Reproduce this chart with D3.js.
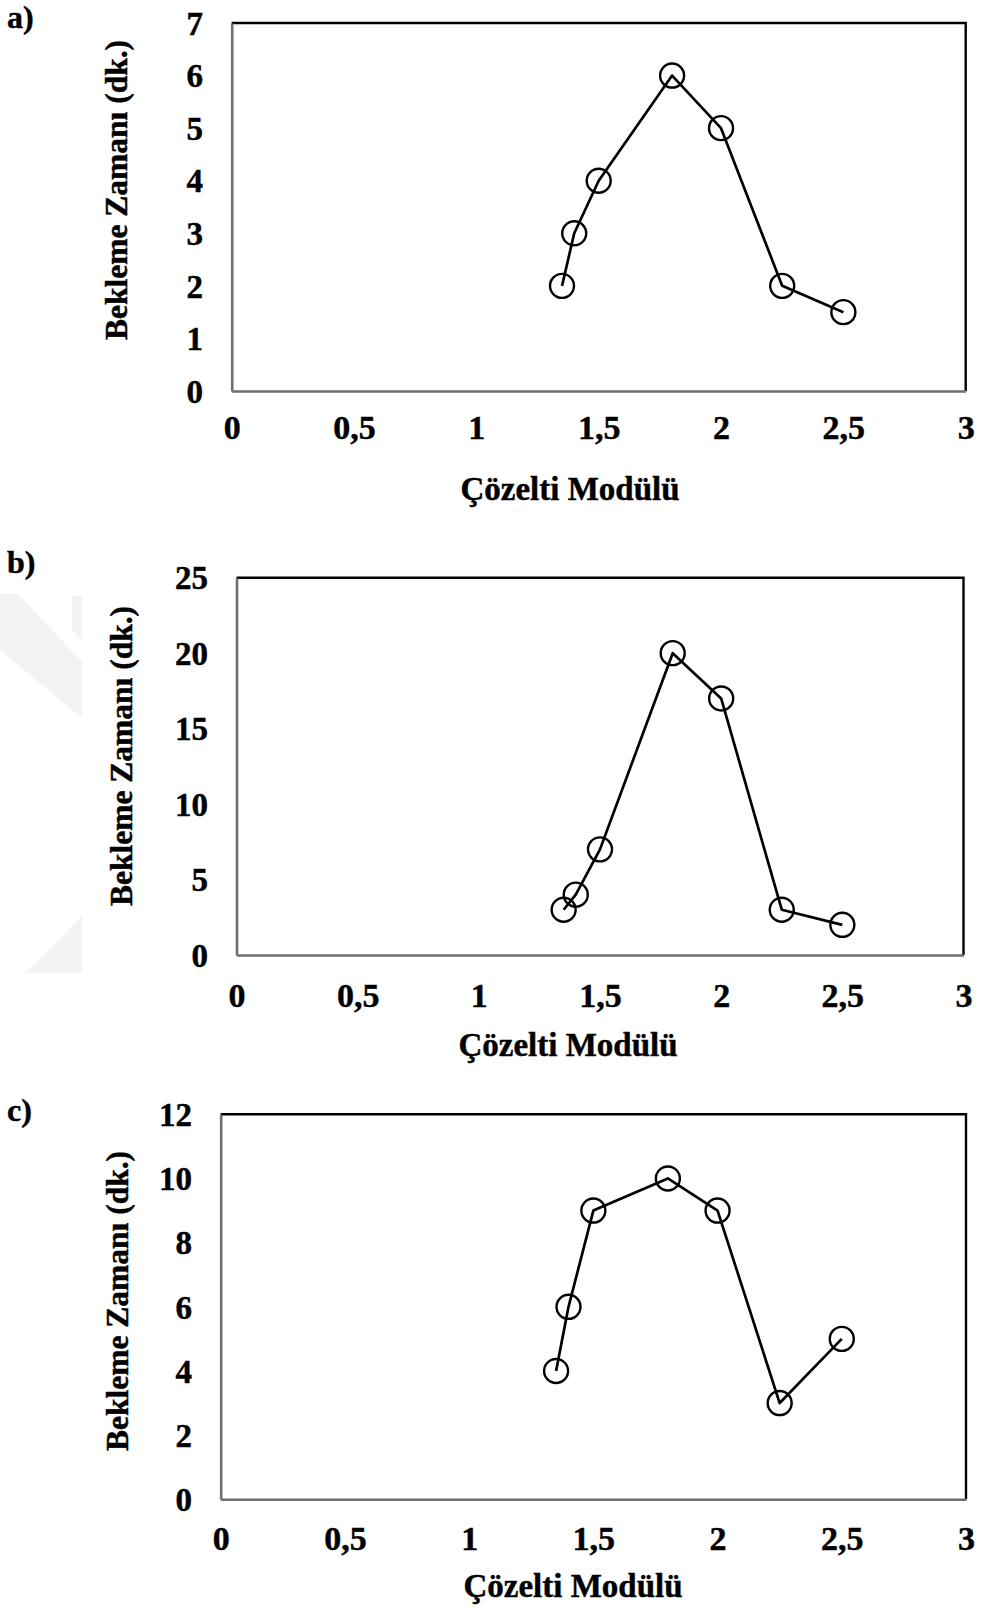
<!DOCTYPE html>
<html>
<head>
<meta charset="utf-8">
<script src="https://cdn.jsdelivr.net/npm/d3@7"></script>
<style>
  html, body { margin: 0; padding: 0; background: #ffffff; }
  svg { display: block; }
  text { font-family: "Liberation Serif", "Times New Roman", serif; font-weight: bold; fill: #000; }
</style>
</head>
<body>
<svg id="fig" width="982" height="1614"></svg>
<script>
// Solution modulus values shared by all three panels
const modulus = [1.35, 1.4, 1.5, 1.8, 2.0, 2.25, 2.5];

// Waiting time (min) for each panel
const waitA = [2, 3, 4, 6, 5, 2, 1.5];
const waitB = [3, 4, 7, 20, 17, 3, 2];
const waitC = [4, 6, 9, 10, 9, 3, 5];

// Tick values
const xTicks = [0, 0.5, 1, 1.5, 2, 2.5, 3];
const yTicksA = [0, 1, 2, 3, 4, 5, 6, 7];
const yTicksB = [0, 5, 10, 15, 20, 25];
const yTicksC = [0, 2, 4, 6, 8, 10, 12];

// Text
const panelLetters = ["a)", "b)", "c)"];
const yTitle = "Bekleme Zamanı (dk.)";
const xTitle = "Çözelti Modülü";

const fmt = d => String(d).replace(".", ",");

// Page layout of each panel
const layouts = [
  { left: 231.7, right: 965.7, top: 23,     bottom: 391,    yLabRight: 203, xLabBase: 439,  xTitleX: 570, xTitleBase: 500,  yTitleX: 117, yTitleY: 190,  letterBase: 28 },
  { left: 236.5, right: 963.5, top: 577.7,  bottom: 955,    yLabRight: 208, xLabBase: 1007, xTitleX: 568, xTitleBase: 1056, yTitleX: 122, yTitleY: 756,  letterBase: 573 },
  { left: 220.7, right: 966,   top: 1114.3, bottom: 1499.3, yLabRight: 192, xLabBase: 1550, xTitleX: 573, xTitleBase: 1597, yTitleX: 118, yTitleY: 1301, letterBase: 1121 }
];

const panels = [
  { values: waitA, yTicks: yTicksA, yMax: 7 },
  { values: waitB, yTicks: yTicksB, yMax: 25 },
  { values: waitC, yTicks: yTicksC, yMax: 12 }
];

const svg = d3.select("#fig");

// Faint background logo fragments
const wm = svg.append("g").attr("fill", "#f3f3f3");
wm.append("path").attr("d", "M0,594 L18,594 L82,662 L82,718 L0,650 Z");
wm.append("path").attr("d", "M72,596 L82,596 L82,640 L72,630 Z");
wm.append("path").attr("d", "M26,973 L82,916 L82,973 Z");

// Slight outline makes the serif glyphs a little heavier
const heavy = sel => sel.attr("stroke", "#000").attr("stroke-width", 0.45).attr("paint-order", "stroke");

panels.forEach((p, i) => {
  const L = layouts[i];
  const x = d3.scaleLinear().domain([0, 3]).range([L.left, L.right]);
  const y = d3.scaleLinear().domain([0, p.yMax]).range([L.bottom, L.top]);
  const g = svg.append("g");

  // Top and right frame edges
  g.append("path")
    .attr("d", `M${L.left},${L.top} H${L.right} V${L.bottom}`)
    .attr("fill", "none").attr("stroke", "#000").attr("stroke-width", 2.4);

  // Left axis
  const ya = g.append("g")
    .attr("transform", `translate(${L.left},0)`)
    .call(d3.axisLeft(y).tickValues(p.yTicks).tickFormat(fmt).tickSize(0).tickPadding(L.left - L.yLabRight));
  ya.select(".domain").attr("stroke", "#6e6e6e").attr("stroke-width", 2.6);
  ya.selectAll("text")
    .attr("font-size", 33)
    .attr("dy", "0.34em")
    .style("font-family", '"Liberation Serif", serif').style("font-weight", "bold")
    .call(heavy);

  // Bottom axis
  const xa = g.append("g")
    .attr("transform", `translate(0,${L.bottom})`)
    .call(d3.axisBottom(x).tickValues(xTicks).tickFormat(fmt).tickSize(0));
  xa.select(".domain").attr("stroke", "#6e6e6e").attr("stroke-width", 2.6);
  xa.selectAll("text")
    .attr("font-size", 34)
    .attr("y", L.xLabBase - L.bottom)
    .attr("dy", 0)
    .style("font-family", '"Liberation Serif", serif').style("font-weight", "bold")
    .call(heavy);

  // Data line
  const pts = modulus.map((m, k) => [m, p.values[k]]);
  g.append("path")
    .datum(pts)
    .attr("fill", "none").attr("stroke", "#000").attr("stroke-width", 2.7)
    .attr("stroke-linejoin", "round")
    .attr("d", d3.line().x(d => x(d[0])).y(d => y(d[1])));

  // Hollow circle markers
  g.selectAll("circle.pt")
    .data(pts).join("circle")
    .attr("class", "pt")
    .attr("cx", d => x(d[0])).attr("cy", d => y(d[1]))
    .attr("r", 12)
    .attr("fill", "none").attr("stroke", "#000").attr("stroke-width", 2.4);

  // Axis titles
  g.append("text")
    .attr("x", L.xTitleX).attr("y", L.xTitleBase)
    .attr("text-anchor", "middle").attr("font-size", 33)
    .text(xTitle)
    .call(heavy);
  g.append("text")
    .attr("transform", `translate(${L.yTitleX},${L.yTitleY}) rotate(-90)`)
    .attr("text-anchor", "middle").attr("dy", "0.33em").attr("font-size", 31.5)
    .text(yTitle)
    .call(heavy);

  // Panel letter
  g.append("text")
    .attr("x", 7).attr("y", L.letterBase)
    .attr("font-size", 32)
    .text(panelLetters[i])
    .call(heavy);
});
</script>
</body>
</html>
